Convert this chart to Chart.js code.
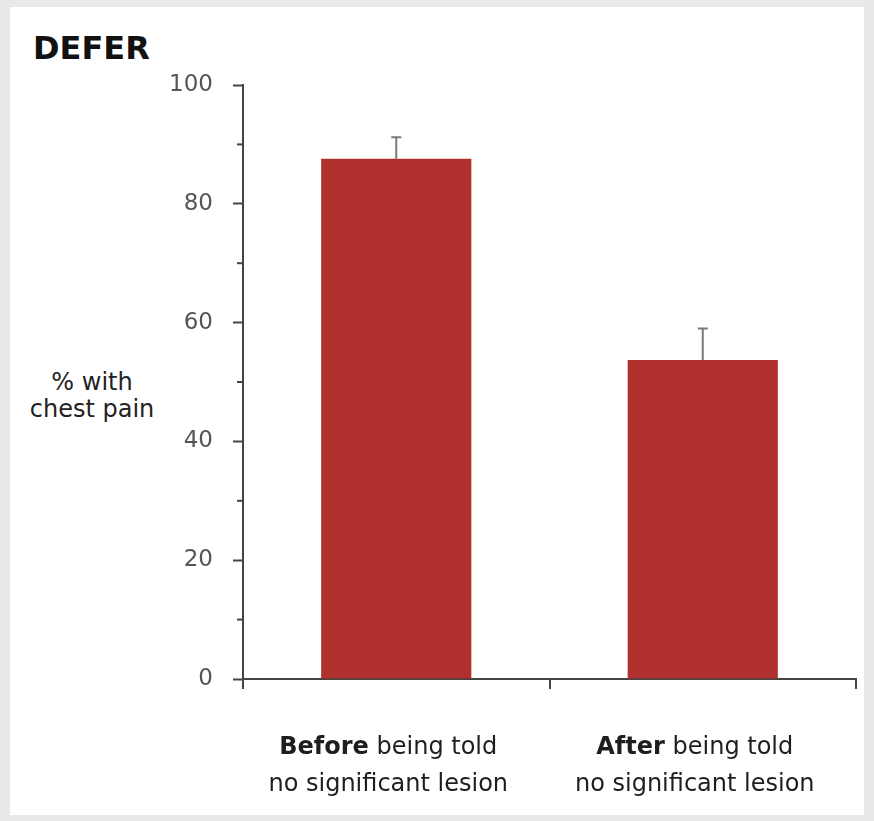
<!DOCTYPE html>
<html>
<head>
<meta charset="utf-8">
<script src="https://cdn.jsdelivr.net/npm/chart.js@4.4.1/dist/chart.umd.min.js"></script>
<style>
  html, body { margin: 0; padding: 0; }
  body { width: 874px; height: 821px; background: #e9e9e9; position: relative; overflow: hidden; }
  #panel { position: absolute; left: 10px; top: 7px; width: 854px; height: 808px; background: #fff; }
  #chart { position: absolute; left: 0; top: 0; }
  #title { position: absolute; left: 33px; top: 29px; font: bold 32px "DejaVu Sans", sans-serif; color: #111; }
  #ylabel { position: absolute; left: 12px; top: 369px; width: 160px; text-align: center; font: 24px "DejaVu Sans", sans-serif; color: #222; line-height: 27px; }
</style>
</head>
<body>
<div id="panel"></div>
<div id="title">DEFER</div>
<div id="ylabel">% with<br>chest pain</div>
<canvas id="chart" width="874" height="821"></canvas>
<script>
// datos
const categories = ['Before', 'After'];
const labelTail = ' being told';
const labelLine2 = 'no significant lesion';
const painPct = [87.6, 53.7];    // % con dolor torácico
const errTop = [91.2, 59];       // extremo superior de la barra de error
const minorTicks = [10, 30, 50, 70, 90];

// barras de error (solo hacia arriba)
const errorBars = {
    id: 'errorBars',
    afterDatasetsDraw(chart) {
        const ctx = chart.ctx;
        const y = chart.scales.y;
        const meta = chart.getDatasetMeta(0);
        ctx.save();
        ctx.strokeStyle = '#7a7a7a';
        ctx.lineWidth = 2;
        meta.data.forEach((bar, i) => {
            const top = y.getPixelForValue(errTop[i]);
            ctx.beginPath();
            ctx.moveTo(bar.x, bar.y);
            ctx.lineTo(bar.x, top);
            ctx.moveTo(bar.x - 5, top);
            ctx.lineTo(bar.x + 5, top);
            ctx.stroke();
        });
        ctx.restore();
    }
};

// marcas menores del eje y y etiquetas del eje x (negrita + normal)
const axisExtras = {
    id: 'axisExtras',
    afterDraw(chart) {
        const ctx = chart.ctx;
        const y = chart.scales.y;
        const x = chart.scales.x;
        ctx.save();
        ctx.strokeStyle = '#444';
        ctx.lineWidth = 2;
        minorTicks.forEach(v => {
            const py = y.getPixelForValue(v);
            ctx.beginPath();
            ctx.moveTo(y.right - 6, py);
            ctx.lineTo(y.right, py);
            ctx.stroke();
        });

        ctx.fillStyle = '#1e1e1e';
        ctx.textBaseline = 'alphabetic';
        categories.forEach((c, i) => {
            const cx = x.getPixelForValue(i) - 8;
            const bold = 'bold 24px "DejaVu Sans", sans-serif';
            const norm = '24px "DejaVu Sans", sans-serif';
            ctx.font = bold;
            const wb = ctx.measureText(c).width;
            ctx.font = norm;
            const wt = ctx.measureText(labelTail).width;
            let sx = cx - (wb + wt) / 2;
            ctx.textAlign = 'left';
            ctx.font = bold;
            ctx.fillText(c, sx, 754);
            ctx.font = norm;
            ctx.fillText(labelTail, sx + wb, 754);
            ctx.textAlign = 'center';
            ctx.fillText(labelLine2, cx, 791);
        });
        ctx.restore();
    }
};

new Chart(document.getElementById('chart'), {
    type: 'bar',
    data: {
        labels: categories,
        datasets: [{
            data: painPct,
            backgroundColor: '#b0302d',
            borderWidth: 0,
            barPercentage: 0.49,
            categoryPercentage: 1
        }]
    },
    options: {
        responsive: false,
        devicePixelRatio: 1,
        animation: false,
        layout: { padding: { top: 85, right: 18, left: 0, bottom: 0 } },
        plugins: { legend: { display: false }, tooltip: { enabled: false } },
        scales: {
            x: {
                grid: { offset: true, drawOnChartArea: false, tickLength: 10, color: '#444', lineWidth: 2 },
                border: { color: '#444', width: 2 },
                ticks: { display: false },
                afterFit(s) { s.height = 142; }
            },
            y: {
                min: 0,
                max: 100,
                ticks: {
                    stepSize: 10,
                    padding: 20,
                    color: '#555',
                    font: { family: 'DejaVu Sans', size: 23 },
                    callback: v => (v % 20 === 0 ? v : '')
                },
                grid: {
                    drawOnChartArea: false,
                    tickLength: 10,
                    tickWidth: 2,
                    tickColor: c => (c.tick && c.tick.value % 20 === 0 ? '#444' : 'rgba(0,0,0,0)')
                },
                border: { color: '#444', width: 2 },
                afterFit(s) { s.width = 243; }
            }
        }
    },
    plugins: [errorBars, axisExtras]
});
</script>
</body>
</html>
